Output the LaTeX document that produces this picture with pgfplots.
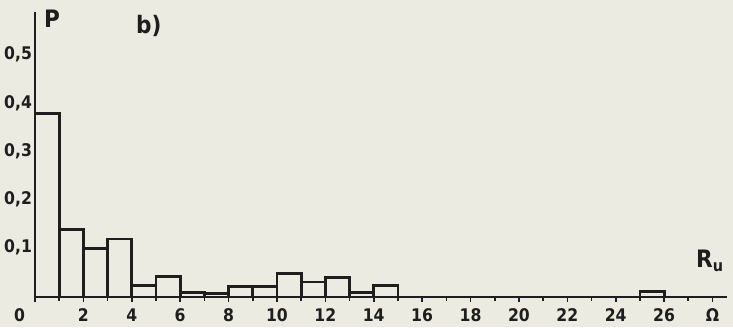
\documentclass[border=0pt]{standalone}
\usepackage{fontspec}
\setmainfont{DejaVu Sans Condensed}[BoldFont={DejaVu Sans Condensed Bold}]
\usepackage{pgfplots}
\pgfplotsset{compat=1.18}
\definecolor{bg}{RGB}{236,235,226}
\definecolor{ink}{RGB}{30,30,30}
\begin{document}
\begin{tikzpicture}
\fill[bg] (0,0) rectangle (366.5pt,163.5pt);
\begin{axis}[
  at={(17.5pt,15pt)}, anchor=south west,
  scale only axis, width=346pt, height=142.5pt,
  xmin=0, xmax=28.6, ymin=0, ymax=0.59,
  axis x line=bottom, axis y line=left,
  axis line style={ink, line width=1.3pt, -},
  xtick={0,2,...,28},
  xticklabels={\makebox[0pt][r]{0\hspace{5pt}},2,4,6,8,10,12,14,16,18,20,22,24,26,Ω},
  minor xtick={1,3,...,27},
  ytick={0.1,0.2,0.3,0.4,0.5},
  /pgf/number format/assume math mode=true,
  /pgf/number format/use comma,
  /pgf/number format/fixed,
  ticklabel style={font=\bfseries\fontsize{8.7}{10}\selectfont, text=ink},
  xtick style={ink, line width=0.8pt},
  ytick style={draw=none},
  tick align=outside,
  major tick length=2.5pt, minor tick length=2pt,
  yticklabel style={xshift=4.5pt, yshift=0.5pt},
  clip=false,
]
\addplot[ybar interval, draw=ink, fill=none, line width=1.4pt] coordinates {
  (0,0.38) (1,0.14) (2,0.10) (3,0.12) (4,0.023) (5,0.042) (6,0.010) (7,0.008)
  (8,0.022) (9,0.021) (10,0.048) (11,0.031) (12,0.040) (13,0.010) (14,0.023)
  (15,0) (16,0) (17,0) (18,0) (19,0) (20,0) (21,0) (22,0) (23,0) (24,0)
  (25,0.012) (26,0)
};
\node[font=\bfseries\fontsize{12}{14}\selectfont, text=ink] at (axis cs:0.7,0.577) {P};
\node[font=\bfseries\fontsize{12}{14}\selectfont, text=ink] at (axis cs:4.7,0.562) {b)};
\node[font=\bfseries\fontsize{12}{14}\selectfont, text=ink] at (axis cs:27.9,0.075) {R\textsubscript{u}};
\end{axis}
\pgfresetboundingbox
\useasboundingbox (0,0) rectangle (366.5pt,163.5pt);
\end{tikzpicture}
\end{document}
